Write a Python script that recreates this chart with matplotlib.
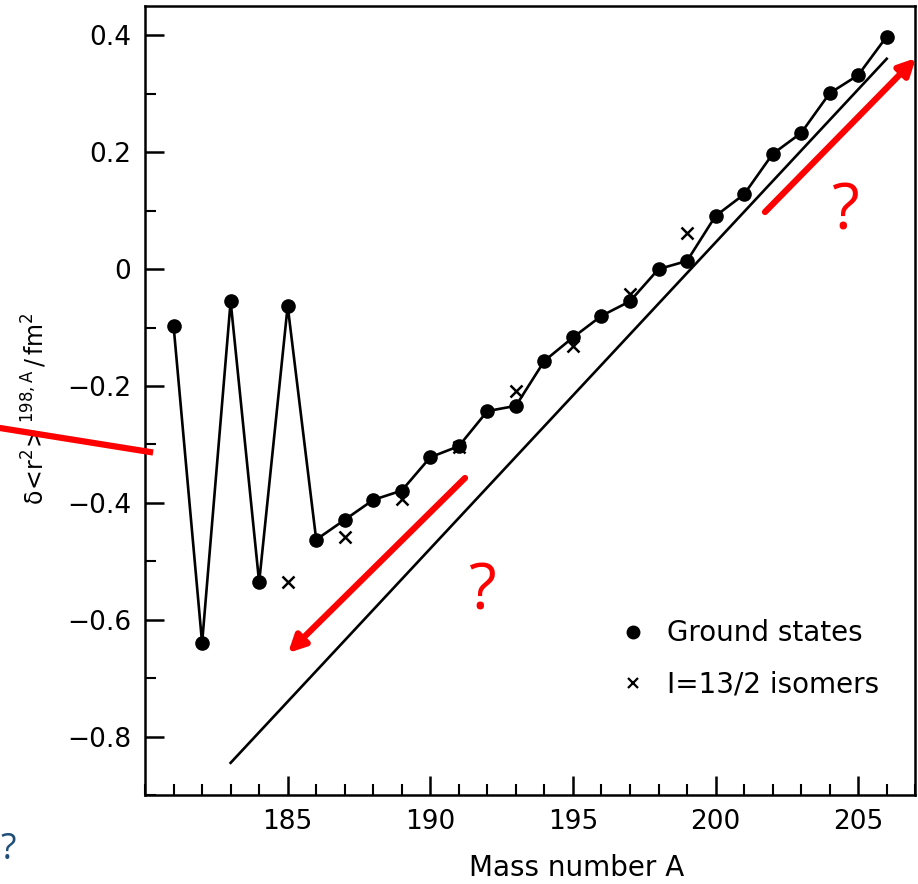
import matplotlib.pyplot as plt
from matplotlib.lines import Line2D
from matplotlib.ticker import MultipleLocator

plt.rcParams.update({'font.family': ['DejaVu Sans']})

# ground state shifts
mass_gs = [181, 182, 183, 184, 185, 186, 187, 188, 189, 190, 191, 192, 193,
           194, 195, 196, 197, 198, 199, 200, 201, 202, 203, 204, 205, 206]
dr2_gs = [-0.097, -0.640, -0.055, -0.536, -0.063, -0.463, -0.429, -0.395,
          -0.379, -0.322, -0.303, -0.243, -0.234, -0.157, -0.117, -0.080,
          -0.055, 0.000, 0.014, 0.091, 0.128, 0.197, 0.233, 0.301, 0.332, 0.398]

# I=13/2 isomers
mass_iso = [185, 187, 189, 191, 193, 195, 197, 199]
dr2_iso = [-0.536, -0.458, -0.393, -0.305, -0.208, -0.132, -0.043, 0.062]

# straight reference line
mass_ref = [183, 206]
dr2_ref = [-0.845, 0.360]

yticks = [-0.8, -0.6, -0.4, -0.2, 0, 0.2, 0.4]
ytick_labels = ['\u22120.8', '\u22120.6', '\u22120.4', '\u22120.2', '0', '0.2', '0.4']

fig = plt.figure(figsize=(9.18, 8.84), dpi=100)
ax = fig.add_axes([0.158, 0.1007, 0.839, 0.8923])

ax.plot(mass_gs, dr2_gs, color='k', lw=1.9)
ax.plot(mass_gs, dr2_gs, 'o', color='k', ms=9.5)
ax.plot(mass_iso, dr2_iso, 'x', color='k', ms=8, mew=1.8)
ax.plot(mass_ref, dr2_ref, color='k', lw=1.9)

ax.set_xlim(180, 207)
ax.set_ylim(-0.9, 0.45)
ax.set_xticks([185, 190, 195, 200, 205])
ax.xaxis.set_minor_locator(MultipleLocator(1))
ax.set_yticks(yticks)
ax.set_yticklabels(ytick_labels)
ax.yaxis.set_minor_locator(MultipleLocator(0.1))
ax.tick_params(which='major', direction='in', length=14, width=1.8, labelsize=19, pad=10)
ax.tick_params(which='minor', direction='in', length=8, width=1.5)
for s in ax.spines.values():
    s.set_linewidth(1.8)

ax.set_xlabel('Mass number A', fontsize=20)
ax.xaxis.set_label_coords(0.56, -0.075)
ax.set_ylabel(r'$\mathregular{\delta\!<\!r^2\!>^{198,A}\,/\,fm^2}$', fontsize=17)
ax.yaxis.set_label_coords(-0.125, 0.49)

handles = [Line2D([], [], ls='none', marker='o', color='k', ms=9),
           Line2D([], [], ls='none', marker='x', color='k', ms=7, mew=1.6)]
ax.legend(handles, ['Ground states', '\u2160=13/2 isomers'], loc='lower right',
          bbox_to_anchor=(0.985, 0.09), frameon=False, fontsize=20,
          handlelength=0.8, handletextpad=0.8, labelspacing=0.85)

# red annotations drawn over the figure
red = '#ff0000'
fig.add_artist(Line2D([0, 150 / 918], [1 - 428 / 884, 1 - 452 / 884],
                      color=red, lw=4.5, transform=fig.transFigure))
ax.annotate('', xy=(288, 884 - 653), xytext=(465, 884 - 478),
            xycoords='figure pixels', textcoords='figure pixels',
            arrowprops=dict(arrowstyle='-|>,head_length=1.0,head_width=0.5',
                            color=red, lw=4.5, shrinkA=0, shrinkB=0))
ax.annotate('', xy=(916, 884 - 58), xytext=(765, 884 - 212),
            xycoords='figure pixels', textcoords='figure pixels',
            arrowprops=dict(arrowstyle='-|>,head_length=1.0,head_width=0.5',
                            color=red, lw=4.5, shrinkA=0, shrinkB=0))
fig.text(482 / 918, 1 - 592 / 884, '?', color=red, fontsize=46,
         ha='center', va='center', family='Open Sans')
fig.text(845 / 918, 1 - 212 / 884, '?', color=red, fontsize=46,
         ha='center', va='center', family='Open Sans')
fig.text(8 / 918, 1 - 850 / 884, '?', color='#1f4e79', fontsize=26,
         ha='center', va='center', family='Open Sans')

plt.savefig('out.png', dpi=100)
